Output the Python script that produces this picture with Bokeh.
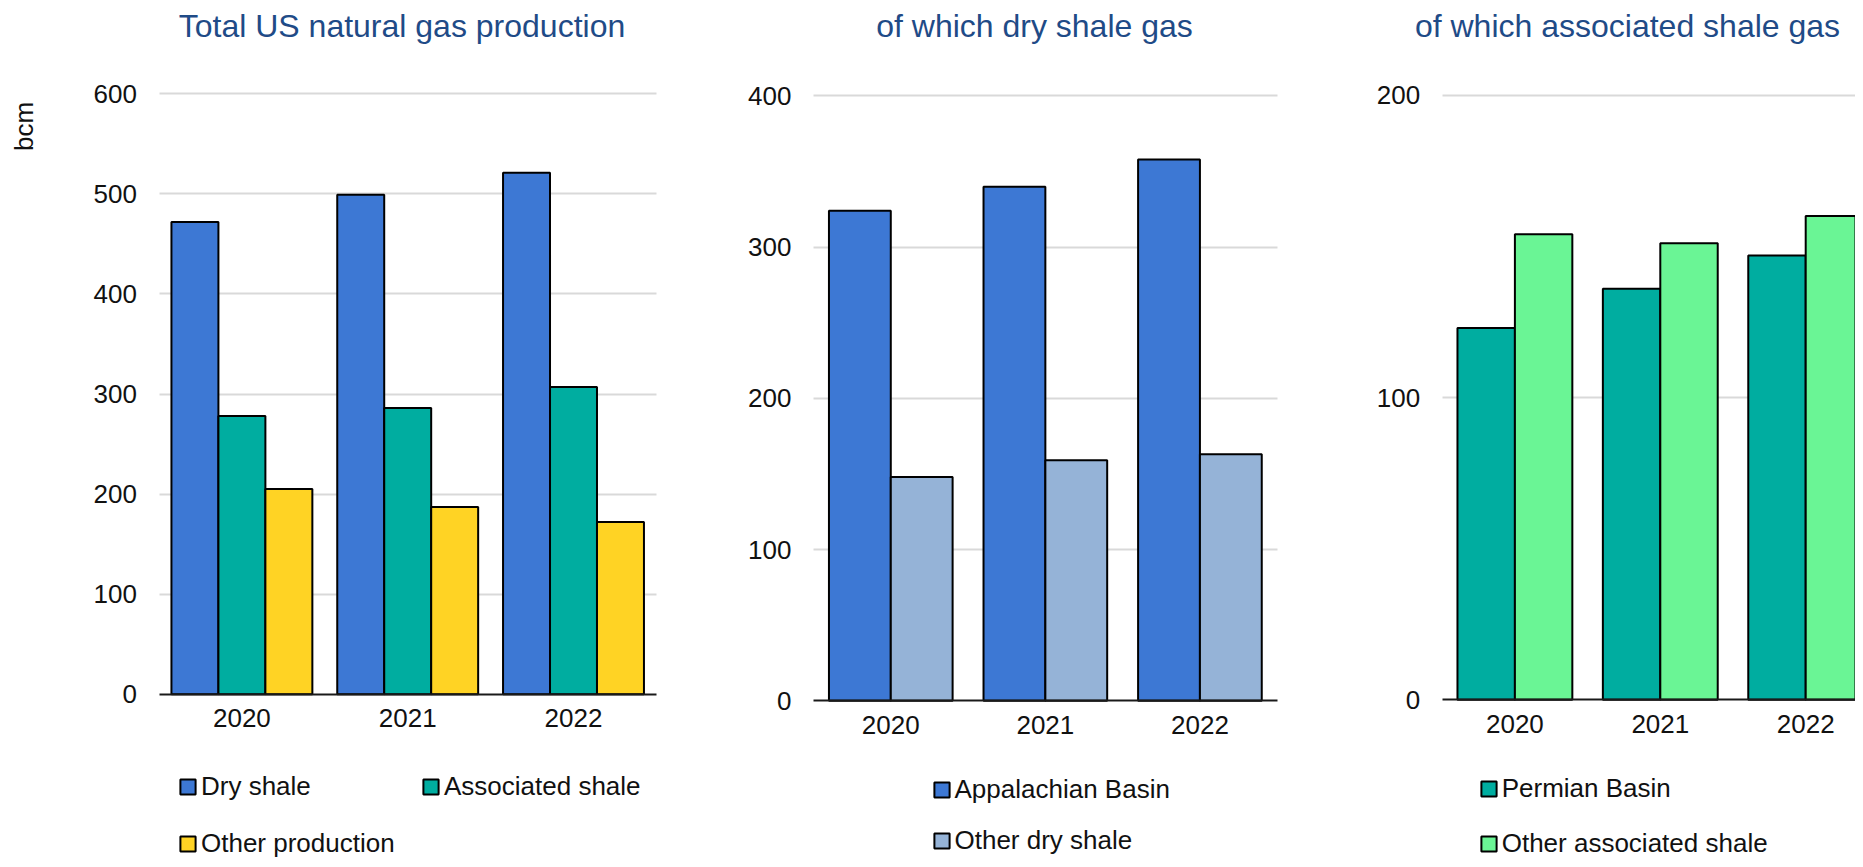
import numpy as np
from bokeh.plotting import figure
from bokeh.models import Range1d, FixedTicker, Label, Legend, LegendItem, ColumnDataSource
from bokeh.layouts import row
from bokeh.embed import file_html
from bokeh.resources import INLINE

# ---------------- data ----------------
years = ["2020", "2021", "2022"]

dry_shale = [472, 499, 521]
associated_shale = [278, 286, 307]
other_production = [205, 187, 172]

appalachian_basin = [324, 340, 358]
other_dry_shale = [148, 159, 163]

permian_basin = [123, 136, 147]
other_associated_shale = [154, 151, 160]

titles = ["Total US natural gas production", "of which dry shale gas", "of which associated shale gas"]
y_unit = "bcm"

# ---------------- style ----------------
FONT = "Liberation Sans"
TEXT = "#111111"
TITLE_C = "#1F4B87"

C_DRY = "#3D78D4"
C_ASSOC = "#00ADA0"
C_OTHER = "#FFD324"
C_OTHER_DRY = "#95B3D7"
C_OTHER_ASSOC = "#6AF595"

H = 859


def make_panel(width, x0_px, pitch_px, y0_px, ytop_px, ymax, series, names, colors,
               bar_w, title, title_x, legend_rows):
    # frame covers the whole canvas; data area placed by the ranges
    xs = -x0_px / pitch_px
    xe = (width - x0_px) / pitch_px
    ppu = (y0_px - ytop_px) / ymax
    ys = -(H - y0_px) / ppu
    ye = ymax + ytop_px / ppu
    p = figure(width=width, height=H, output_backend="svg", toolbar_location=None,
               x_range=Range1d(xs, xe), y_range=Range1d(ys, ye),
               min_border_left=0, min_border_right=0, min_border_top=0, min_border_bottom=0)
    p.outline_line_color = None
    p.background_fill_color = "white"
    p.border_fill_color = "white"

    ncat = len(years)
    centers = [i + 0.5 for i in range(ncat)]
    n = len(series)
    renderers = []
    for j, (vals, c) in enumerate(zip(series, colors)):
        off = (j - (n - 1) / 2) * bar_w
        src = ColumnDataSource(dict(x=[cx + off for cx in centers], top=vals))
        r = p.vbar(x="x", top="top", width=bar_w, bottom=0, source=src,
                   fill_color=c, line_color="black", line_width=2)
        renderers.append(r)

    # x axis drawn at y = 0
    p.xaxis.fixed_location = 0
    p.xaxis.bounds = (0, ncat)
    p.xaxis.ticker = FixedTicker(ticks=centers)
    p.xaxis.major_label_overrides = {cx: y for cx, y in zip(centers, years)}
    p.xaxis.major_tick_line_color = None
    p.xaxis.minor_tick_line_color = None
    p.xaxis.major_tick_out = 0
    p.xaxis.major_tick_in = 0
    p.xaxis.major_label_standoff = 15
    p.xaxis.axis_line_color = "#1a1a1a"
    p.xaxis.axis_line_width = 2
    p.xaxis.major_label_text_font = FONT
    p.xaxis.major_label_text_font_size = "26px"
    p.xaxis.major_label_text_color = TEXT

    # y axis drawn at x = 0
    yt = list(range(0, ymax + 1, 100))
    p.yaxis.fixed_location = 0
    p.yaxis.bounds = (0, ymax)
    p.yaxis.ticker = FixedTicker(ticks=yt)
    p.yaxis.axis_line_color = None
    p.yaxis.major_tick_line_color = None
    p.yaxis.minor_tick_line_color = None
    p.yaxis.major_tick_out = 0
    p.yaxis.major_tick_in = 0
    p.yaxis.major_label_standoff = 22
    p.yaxis.major_label_text_font = FONT
    p.yaxis.major_label_text_font_size = "26px"
    p.yaxis.major_label_text_color = TEXT

    p.xgrid.grid_line_color = None
    g = p.ygrid[0]
    g.ticker = FixedTicker(ticks=yt[1:])
    g.grid_line_color = "#D9D9D9"
    g.grid_line_width = 2
    if hasattr(g, "cross_bounds"):
        g.cross_bounds = (0, ncat)

    p.add_layout(Label(x=title_x, y=H - 25.3, x_units="screen", y_units="screen", text=title,
                       text_align="center", text_baseline="alphabetic",
                       text_font=FONT, text_font_size="32px", text_color=TITLE_C))

    for (lx, ly, idxs) in legend_rows:
        items = [LegendItem(label=names[k], renderers=[renderers[k]]) for k in idxs]
        leg = Legend(items=items, location=(lx, ly), orientation="horizontal",
                     glyph_width=19, glyph_height=19, label_standoff=4,
                     label_width=210, label_height=19, spacing=10, padding=0, margin=0,
                     border_line_color=None, background_fill_alpha=0,
                     label_text_font=FONT, label_text_font_size="26px",
                     label_text_color=TEXT)
        p.add_layout(leg)
    return p


p1 = make_panel(730, 158.5, 165.8, 693.7, 93.3, 600,
                [dry_shale, associated_shale, other_production],
                ["Dry shale", "Associated shale", "Other production"],
                [C_DRY, C_ASSOC, C_OTHER], 0.2833, titles[0], 401.5,
                [(178, 57.5, [0, 1]), (178, 0, [2])])
p1.add_layout(Label(x=23.3, y=H - 126, x_units="screen", y_units="screen", text=y_unit,
                    angle=np.pi / 2, text_align="center", text_baseline="middle",
                    text_font=FONT, text_font_size="26px", text_color=TEXT))

p2 = make_panel(590, 83, 154.57, 700.3, 95.4, 400,
                [appalachian_basin, other_dry_shale],
                ["Appalachian Basin", "Other dry shale"],
                [C_DRY, C_OTHER_DRY], 0.40, titles[1], 304,
                [(201.5, 53.8, [0]), (201.5, 2.8, [1])])

p3 = make_panel(535, 121.7, 145.4, 699.3, 94.7, 200,
                [permian_basin, other_associated_shale],
                ["Permian Basin", "Other associated shale"],
                [C_ASSOC, C_OTHER_ASSOC], 0.395, titles[2], 307,
                [(158.7, 55.5, [0]), (158.7, 0.5, [1])])

layout = row(p1, p2, p3)
open("out.html", "w").write(file_html(layout, INLINE))
